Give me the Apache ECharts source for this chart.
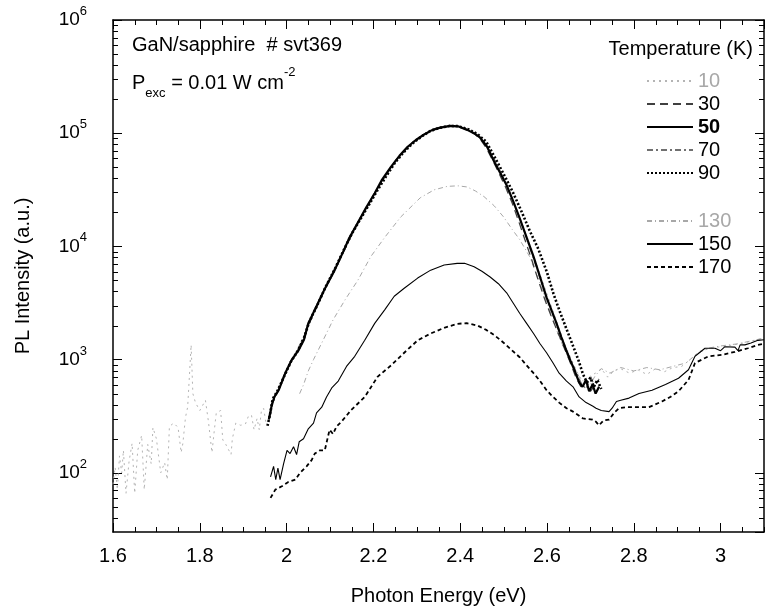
<!DOCTYPE html>
<html><head><meta charset="utf-8">
<script src="https://cdn.jsdelivr.net/npm/echarts@6/dist/echarts.min.js"></script>
<style>html,body{margin:0;padding:0;background:#fff}#c{width:765px;height:613px}</style>
</head><body><div id="c"></div>
<script>
// ---- data: [photon energy (eV), PL intensity (a.u.)] ----
const t10 = [[1.600,79],[1.605,112],[1.610,71],[1.615,141],[1.620,100],[1.624,158],[1.630,66],[1.637,126],[1.644,182],[1.650,66],[1.657,158],[1.666,214],[1.672,71],[1.680,178],[1.688,120],[1.692,251],[1.700,200],[1.710,100],[1.719,123],[1.725,87],[1.730,257],[1.740,275],[1.750,251],[1.757,151],[1.761,182],[1.767,309],[1.772,380],[1.776,708],[1.780,1350],[1.784,501],[1.790,417],[1.800,355],[1.813,437],[1.820,282],[1.828,151],[1.833,229],[1.838,339],[1.848,355],[1.853,195],[1.860,178],[1.867,158],[1.872,145],[1.875,200],[1.883,275],[1.894,263],[1.905,269],[1.912,316],[1.919,324],[1.925,240],[1.932,302],[1.937,240],[1.942,355],[1.947,372],[1.952,282],[1.959,302],
  [1.966,390],[1.975,480],[1.990,650],[2.005,880],[2.025,1250],[2.045,1800],[2.065,2800],[2.090,4400],[2.115,6700],[2.140,10800],[2.165,16500],[2.190,24500],[2.215,35500],[2.240,49000],[2.265,65000],[2.290,82000],[2.315,96000],[2.340,108000],[2.365,114000],[2.390,115000],[2.415,108000],[2.440,95000],[2.460,79000],[2.480,57000],[2.500,40000],[2.520,27000],[2.540,17000],[2.560,10500],[2.580,6300],[2.600,3800],[2.620,2300],[2.640,1400],[2.660,930],[2.675,700],[2.690,600],[2.700,720],
  [2.712,760],[2.725,830],[2.740,700],[2.755,800],[2.770,830],[2.790,760],[2.810,810],[2.830,740],[2.850,830],[2.870,780],[2.890,850],[2.910,870],[2.930,1000],[2.950,1180],[2.975,1250],[3.000,1300],[3.030,1350],[3.060,1420],[3.100,1550]];
const t30 = [[1.960,300],[1.968,420],[1.978,500],[1.995,740],[2.012,980],[2.030,1280],[2.050,2000],[2.070,2950],[2.090,4350],[2.110,6100],[2.130,8800],[2.150,12600],[2.170,17800],[2.190,24000],[2.210,33000],[2.230,44000],[2.250,56500],[2.270,70000],[2.290,83000],[2.310,94500],[2.330,104000],[2.350,111000],[2.375,115500],[2.400,113000],[2.420,105000],[2.435,97000],
  [2.446,89100],[2.460,74100],[2.475,57500],[2.490,43700],[2.505,33100],[2.520,24000],[2.535,16600],[2.550,11200],[2.565,7590],[2.580,5010],[2.595,3390],[2.610,2400],[2.625,1740],[2.640,1260],[2.652,977],[2.665,724],[2.678,575],[2.690,661],[2.700,525],[2.712,603]];
const t50 = [[1.959,295],[1.966,400],[1.972,470],[1.982,540],[1.997,760],[2.012,1000],[2.027,1200],[2.040,1500],[2.050,2090],[2.070,3020],[2.089,4300],[2.111,6200],[2.130,8900],[2.145,12000],[2.164,16200],[2.183,21900],[2.203,29500],[2.220,38900],[2.240,50100],[2.260,63100],[2.279,75900],[2.298,87100],[2.317,97700],[2.336,107000],[2.354,112000],[2.377,116000],[2.395,115000],[2.416,107000],[2.432,100000],[2.446,91200],[2.462,75900],[2.477,57500],[2.492,44700],[2.507,34700],[2.522,25100],[2.537,17800],[2.553,12000],[2.569,8130],[2.584,5370],[2.599,3550],[2.611,2690],[2.622,2090],[2.633,1580],[2.644,1220],[2.654,977],[2.663,813],[2.674,631],[2.682,575],[2.690,661],[2.697,525],[2.705,603],[2.712,501],[2.720,575]];
const t70 = [[1.962,330],[1.972,460],[1.985,580],[2.000,800],[2.020,1100],[2.040,1600],[2.060,2500],[2.080,3700],[2.100,5300],[2.120,7600],[2.140,10900],[2.160,15300],[2.180,21000],[2.200,28500],[2.225,40000],[2.250,56000],[2.275,72000],[2.300,88000],[2.325,100000],[2.350,110000],[2.375,115000],[2.400,114000],[2.425,104000],[2.445,92000],
  [2.462,75900],[2.480,57500],[2.500,39800],[2.515,29500],[2.530,20900],[2.545,14500],[2.560,9800],[2.577,6300],[2.592,4170],[2.607,2880],[2.620,2140],[2.635,1510],[2.650,1100],[2.665,813],[2.678,631],[2.690,550],[2.700,724],[2.710,575],[2.720,676]];
const t90 = [[1.956,260],[1.962,330],[1.968,450],[1.978,520],[1.995,720],[2.010,960],[2.025,1180],[2.040,1550],[2.052,2150],[2.072,3100],[2.090,4400],[2.111,6300],[2.130,9000],[2.150,12900],[2.170,17400],[2.190,23400],[2.210,31600],[2.230,42000],[2.250,55000],[2.270,68000],[2.290,81000],[2.310,93000],[2.330,104000],[2.350,111000],[2.375,116000],[2.395,115500],[2.420,108000],[2.440,98000],[2.460,84000],[2.477,64000],[2.500,43700],[2.520,30900],[2.540,20900],[2.560,13800],[2.580,9500],[2.600,5900],[2.615,3800],[2.630,2630],[2.645,1860],[2.660,1320],[2.672,1000],[2.683,741],[2.692,631],[2.700,692],[2.708,575],[2.716,661],[2.725,550]];
const t130 = [[2.030,500],[2.039,600],[2.050,794],[2.062,1000],[2.084,1480],[2.107,2240],[2.135,3390],[2.164,5010],[2.194,8130],[2.226,12000],[2.263,18200],[2.308,26900],[2.340,31600],[2.370,33900],[2.395,34300],[2.416,33500],[2.435,30900],[2.455,27500],[2.478,22900],[2.500,18200],[2.520,14100],[2.537,11500],[2.560,8130],[2.583,4790],[2.606,2750],[2.628,1580],[2.651,1000],[2.674,708],[2.697,575],[2.710,708],[2.725,832],[2.745,759],[2.770,851],[2.800,794],[2.830,851],[2.860,813],[2.890,871],[2.920,933],[2.945,1120],[2.970,1260],[3.000,1320],[3.040,1380],[3.100,1550]];
const t150 = [[1.963,92],[1.970,114],[1.975,87],[1.980,110],[1.985,87],[1.993,120],[2.001,158],[2.008,148],[2.016,170],[2.023,145],[2.029,188],[2.039,200],[2.050,245],[2.062,275],[2.069,339],[2.081,380],[2.092,468],[2.104,562],[2.119,646],[2.138,871],[2.157,1070],[2.180,1480],[2.203,2090],[2.226,2750],[2.248,3630],[2.271,4270],[2.302,5250],[2.332,6170],[2.363,6840],[2.393,7080],[2.410,7100],[2.432,6610],[2.450,6030],[2.469,5370],[2.488,4680],[2.507,3890],[2.522,3160],[2.537,2570],[2.553,2090],[2.569,1700],[2.584,1380],[2.599,1150],[2.614,933],[2.628,759],[2.645,646],[2.660,575],[2.674,468],[2.690,417],[2.705,389],[2.713,372],[2.725,355],[2.743,347],[2.750,372],[2.760,427],[2.770,437],[2.789,457],[2.812,501],[2.842,537],[2.873,603],[2.903,684],[2.926,813],[2.941,1070],[2.964,1260],[2.987,1260],[3.000,1200],[3.010,1300],[3.033,1290],[3.040,1200],[3.045,1350],[3.056,1350],[3.070,1400],[3.086,1480],[3.100,1500]];
const t170 = [[1.963,60],[1.974,71],[1.989,76],[2.004,83],[2.020,87],[2.031,100],[2.046,114],[2.058,130],[2.065,148],[2.077,158],[2.088,158],[2.099,240],[2.107,220],[2.115,257],[2.126,282],[2.149,359],[2.180,468],[2.210,708],[2.241,891],[2.271,1150],[2.302,1480],[2.332,1700],[2.363,1910],[2.393,2070],[2.415,2100],[2.440,2000],[2.461,1820],[2.480,1630],[2.500,1410],[2.518,1220],[2.537,1050],[2.553,891],[2.569,759],[2.584,646],[2.599,537],[2.614,468],[2.628,417],[2.645,372],[2.660,347],[2.683,302],[2.705,295],[2.713,282],[2.720,263],[2.730,290],[2.743,295],[2.755,340],[2.766,372],[2.785,380],[2.804,380],[2.835,380],[2.865,427],[2.885,470],[2.903,525],[2.926,661],[2.941,933],[2.972,1070],[3.002,1100],[3.033,1170],[3.063,1260],[3.086,1350],[3.100,1380]];

const temps1 = ['10','30','50','70','90'];
const temps2 = ['130','150','170'];
const xMin = 1.6, xMax = 3.1, xStep = 0.2;
const yMin = 30, yMax = 1e6;

// axis decoration positions (minor ticks)
const xMinor = [];
for (let k = 0; k <= 30; k++) { if (k % 4 !== 0) xMinor.push(+(xMin + 0.05 * k).toFixed(2)); }
const yMinor = [];
for (let p = 1; p <= 5; p++) for (let m = 2; m <= 9; m++) { const v = m * Math.pow(10, p); if (v > yMin && v < yMax) yMinor.push(v); }

const FONT = '"Liberation Sans", Arial, Helvetica, sans-serif';

const styles = {
  '10':  { color: '#b4b4b4', width: 1,   type: [2, 4] },
  '30':  { color: '#404040', width: 1.3, type: [8, 5] },
  '50':  { color: '#000000', width: 2.2, type: 'solid' },
  '70':  { color: '#707070', width: 1.2, type: [6, 3, 2, 3] },
  '90':  { color: '#000000', width: 2.6, type: [2, 2] },
  '130': { color: '#a8a8a8', width: 1,   type: [5, 3, 1, 3] },
  '150': { color: '#000000', width: 1.1, type: 'solid' },
  '170': { color: '#000000', width: 1.8, type: [4, 3] }
};
const dataByName = { '10': t10, '30': t30, '50': t50, '70': t70, '90': t90, '130': t130, '150': t150, '170': t170 };
const drawOrder = ['10','130','70','30','170','150','90','50'];

const series = drawOrder.map(n => ({
  name: n, type: 'line', data: dataByName[n], showSymbol: false, symbol: 'none',
  lineStyle: { color: styles[n].color, width: styles[n].width, type: styles[n].type },
  itemStyle: { color: styles[n].color },
  clip: true, silent: true, animation: false
}));

series.push({
  name: '_yminor', type: 'custom', silent: true, animation: false,
  data: yMinor.map(v => [xMin, v]),
  renderItem(params, api) {
    const cs = params.coordSys;
    const y = Math.round(api.coord([xMin, api.value(1)])[1]) + 0.5;
    return { type: 'group', children: [
      { type: 'line', shape: { x1: cs.x, y1: y, x2: cs.x + 5, y2: y }, style: { stroke: '#000', lineWidth: 1 } },
      { type: 'line', shape: { x1: cs.x + cs.width - 5, y1: y, x2: cs.x + cs.width, y2: y }, style: { stroke: '#000', lineWidth: 1 } }
    ]};
  }
});
series.push({
  name: '_xminor', type: 'custom', silent: true, animation: false,
  data: xMinor.map(v => [v, yMin]),
  renderItem(params, api) {
    const cs = params.coordSys;
    const x = Math.round(api.coord([api.value(0), yMin])[0]) + 0.5;
    return { type: 'group', children: [
      { type: 'line', shape: { x1: x, y1: cs.y + cs.height, x2: x, y2: cs.y + cs.height - 5 }, style: { stroke: '#000', lineWidth: 1 } },
      { type: 'line', shape: { x1: x, y1: cs.y, x2: x, y2: cs.y + 5 }, style: { stroke: '#000', lineWidth: 1 } }
    ]};
  }
});

const legendBase = {
  orient: 'vertical', left: 641, itemWidth: 46, itemHeight: 14, itemGap: 3,
  selectedMode: false,
  itemStyle: { opacity: 0, borderWidth: 0 },
  textStyle: { fontSize: 20, fontFamily: FONT, color: '#000' }
};
function legendData(list) {
  return list.map(n => ({
    name: n,
    itemStyle: { opacity: 0, borderWidth: 0 },
    textStyle: (n === '10' || n === '130') ? { color: '#a8a8a8' } : (n === '50' ? { fontWeight: 'bold' } : {})
  }));
}

const option = {
  animation: false,
  backgroundColor: '#fff',
  grid: { left: 113, right: 1, top: 20, bottom: 81, containLabel: false },
  legend: [
    Object.assign({}, legendBase, { top: 66, data: legendData(temps1) }),
    Object.assign({}, legendBase, { top: 206, data: legendData(temps2) })
  ],
  xAxis: [
    { type: 'value', min: xMin, max: xMax, interval: xStep, position: 'bottom',
      axisLine: { show: true, onZero: false, lineStyle: { color: '#000', width: 1.5 } },
      axisTick: { inside: true, length: 9, lineStyle: { color: '#000', width: 1 } },
      axisLabel: { showMaxLabel: false, margin: 14, color: '#000', fontSize: 20, fontFamily: FONT,
        formatter: v => (Math.abs(v - Math.round(v)) < 1e-9 ? String(Math.round(v)) : v.toFixed(1)) },
      splitLine: { show: false },
      name: 'Photon Energy (eV)', nameLocation: 'middle', nameGap: 54,
      nameTextStyle: { fontSize: 20, fontFamily: FONT, color: '#000' } },
    { type: 'value', min: xMin, max: xMax, interval: xStep, position: 'top',
      axisLine: { show: true, onZero: false, lineStyle: { color: '#000', width: 1.5 } },
      axisTick: { inside: true, length: 9, lineStyle: { color: '#000', width: 1 } },
      axisLabel: { show: false }, splitLine: { show: false } }
  ],
  yAxis: [
    { type: 'log', logBase: 10, min: yMin, max: yMax, position: 'left',
      axisLine: { show: true, onZero: false, lineStyle: { color: '#000', width: 1.5 } },
      axisTick: { inside: true, length: 9, lineStyle: { color: '#000', width: 1 } },
      axisLabel: { showMinLabel: false, margin: 26, color: '#000',
        formatter: v => { const e = Math.log10(v); if (Math.abs(e - Math.round(e)) > 1e-6) return ''; return '{b|10}{s|' + Math.round(e) + '}'; },
        rich: { b: { fontSize: 19, fontFamily: FONT, color: '#000', lineHeight: 30 },
                s: { fontSize: 13, fontFamily: FONT, color: '#000', lineHeight: 13, verticalAlign: 'top' } } },
      splitLine: { show: false },
      name: 'PL Intensity (a.u.)', nameLocation: 'middle', nameGap: 80,
      nameTextStyle: { fontSize: 20, fontFamily: FONT, color: '#000' } },
    { type: 'log', logBase: 10, min: yMin, max: yMax, position: 'right',
      axisLine: { show: true, onZero: false, lineStyle: { color: '#000', width: 1.5 } },
      axisTick: { inside: true, length: 9, lineStyle: { color: '#000', width: 1 } },
      axisLabel: { show: false }, splitLine: { show: false } }
  ],
  graphic: [
    { type: 'text', left: 132, top: 35, silent: true,
      style: { text: 'GaN/sapphire  # svt369', font: '20px ' + FONT, fill: '#000' } },
    { type: 'text', left: 132, top: 66, silent: true,
      style: { text: '{b|P}{sub|exc}{b| = 0.01 W cm}{sup|-2}', fill: '#000',
        rich: { b: { fontSize: 20, fontFamily: FONT, fill: '#000', lineHeight: 34 },
                sub: { fontSize: 13, fontFamily: FONT, fill: '#000', lineHeight: 13, verticalAlign: 'bottom' },
                sup: { fontSize: 13, fontFamily: FONT, fill: '#000', lineHeight: 13, verticalAlign: 'top' } } } },
    { type: 'text', right: 12, top: 39, silent: true,
      style: { text: 'Temperature (K)', font: '20px ' + FONT, fill: '#000' } }
  ],
  series: series
};

const chart = echarts.init(document.getElementById('c'), null, { renderer: 'canvas' });
chart.setOption(option);
</script>
</body></html>
